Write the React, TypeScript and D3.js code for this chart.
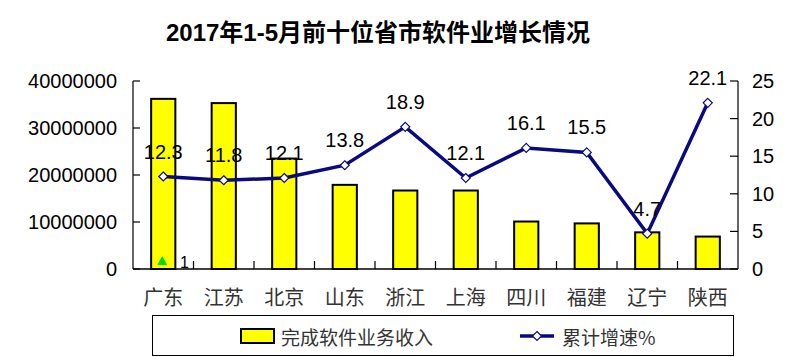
import React from "react";
import * as d3 from "d3";

const categories = ["广东", "江苏", "北京", "山东", "浙江", "上海", "四川", "福建", "辽宁", "陕西"];
const revenue = [36200000, 35300000, 23500000, 17900000, 16700000, 16700000, 10100000, 9700000, 7800000, 6900000];
const growth = [12.3, 11.8, 12.1, 13.8, 18.9, 12.1, 16.1, 15.5, 4.7, 22.1];
const leftTicks = [0, 10000000, 20000000, 30000000, 40000000];
const rightTicks = [0, 5, 10, 15, 20, 25];
const title = "2017年1-5月前十位省市软件业增长情况";
const legendBar = "完成软件业务收入";
const legendLine = "累计增速%";

const W = 798;
const H = 357;
const left = 133;
const right = 738;
const top = 81;
const bottom = 269;
const navy = "#0a0a80";
const numFont = "'Liberation Sans', Arial, sans-serif";
const cjkFont = "'Noto Sans CJK SC', sans-serif";

export default function App() {
  const x = d3.scaleBand<string>().domain(categories).range([left, right]).paddingInner(0).paddingOuter(0);
  const yL = d3.scaleLinear().domain([0, 40000000]).range([bottom, top]);
  const yR = d3.scaleLinear().domain([0, 25]).range([bottom, top]);
  const bw = x.bandwidth() * 0.4;
  const cx = (c: string) => (x(c) as number) + x.bandwidth() / 2;
  const line = d3
    .line<number>()
    .x((_, i) => cx(categories[i]))
    .y((d) => yR(d));
  const diamond = (px: number, py: number, r = 4.5) =>
    `M${px},${py - r}L${px + r},${py}L${px},${py + r}L${px - r},${py}Z`;

  return (
    <svg width={W} height={H} style={{ position: "absolute", left: 0, top: 0, background: "#fff" }}>
      <text x={378} y={41} textAnchor="middle" fontFamily={`${numFont}, ${cjkFont}`} fontWeight="bold" fontSize={24} fill="#000">
        {title}
      </text>

      {/* bars */}
      {categories.map((c, i) => (
        <rect key={c} x={cx(c) - bw / 2} y={yL(revenue[i])} width={bw} height={bottom - yL(revenue[i])} fill="#ffff00" stroke="#000" strokeWidth={2} />
      ))}

      {/* left axis */}
      <line x1={left} x2={left} y1={top} y2={bottom} stroke="#000" strokeWidth={1.2} />
      {leftTicks.map((t) => (
        <g key={t}>
          <line x1={left} x2={left + 7} y1={yL(t)} y2={yL(t)} stroke="#000" strokeWidth={1.2} />
          <text x={117} y={yL(t)} textAnchor="end" dominantBaseline="central" fontFamily={numFont} fontSize={20} fill="#000">
            {t}
          </text>
        </g>
      ))}

      {/* right axis */}
      <line x1={right} x2={right} y1={top} y2={bottom} stroke="#000" strokeWidth={1.2} />
      {rightTicks.map((t) => (
        <g key={t}>
          <line x1={right - 8} x2={right} y1={yR(t)} y2={yR(t)} stroke="#000" strokeWidth={1.2} />
          <text x={752} y={yR(t)} textAnchor="start" dominantBaseline="central" fontFamily={numFont} fontSize={20} fill="#000">
            {t}
          </text>
        </g>
      ))}

      {/* bottom axis */}
      <line x1={left} x2={right} y1={bottom} y2={bottom} stroke="#000" strokeWidth={1.5} />
      {categories.slice(1).map((c) => (
        <line key={c} x1={x(c) as number} x2={x(c) as number} y1={bottom} y2={bottom - 8} stroke="#000" strokeWidth={1.2} />
      ))}
      {categories.map((c) => (
        <text key={c} x={cx(c)} y={296} textAnchor="middle" dominantBaseline="central" fontFamily={cjkFont} fontSize={20} fill="#333">
          {c}
        </text>
      ))}

      {/* artifact marker */}
      <path d={`M${cx(categories[0]) - 1},${256}L${cx(categories[0]) + 4},${265}L${cx(categories[0]) - 6},${265}Z`} fill="#00dd00" />
      <text x={180} y={262} dominantBaseline="central" fontFamily={numFont} fontSize={16} fill="#000">1</text>

      {/* line */}
      <path d={line(growth) || ""} fill="none" stroke={navy} strokeWidth={3.5} strokeLinejoin="miter" />
      {growth.map((g, i) => (
        <path key={i} d={diamond(cx(categories[i]), yR(g))} fill="#fff" stroke={navy} strokeWidth={1.2} />
      ))}
      {growth.map((g, i) => (
        <text key={i} x={cx(categories[i])} y={yR(g) - 25} textAnchor="middle" dominantBaseline="central" fontFamily={numFont} fontSize={20} fill="#000">
          {g}
        </text>
      ))}

      {/* legend */}
      <rect x={152.5} y={315.5} width={581} height={40} fill="#fff" stroke="#000" strokeWidth={1} />
      <rect x={241} y={329} width={33} height={14} fill="#ffff00" stroke="#000" strokeWidth={2} />
      <text x={281} y={336} dominantBaseline="central" fontFamily={cjkFont} fontSize={19} fill="#333">{legendBar}</text>
      <line x1={520} x2={554} y1={336} y2={336} stroke={navy} strokeWidth={3.5} />
      <path d={diamond(537, 336)} fill="#fff" stroke={navy} strokeWidth={1.2} />
      <text x={562} y={336} dominantBaseline="central" fontFamily={`${cjkFont}`} fontSize={19} fill="#333">{legendLine}</text>
    </svg>
  );
}
